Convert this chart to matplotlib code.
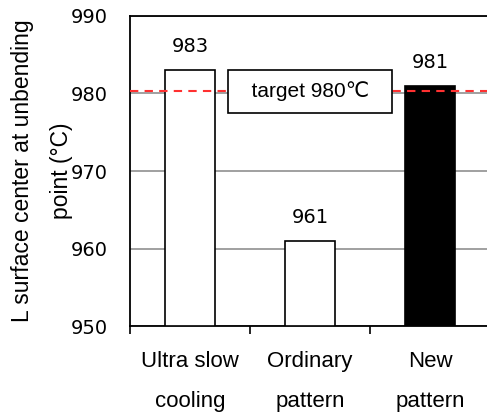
import matplotlib
matplotlib.use('Agg')
import matplotlib.pyplot as plt
import numpy as np

# data
categories = ['Ultra slow\ncooling', 'Ordinary\npattern', 'New\npattern']
temps = [983, 961, 981]
bar_colors = ['white', 'white', 'black']
target = 980.3
yticks = [950, 960, 970, 980, 990]

plt.rcParams['font.family'] = ['Liberation Sans', 'DejaVu Sans']

fig = plt.figure(figsize=(4.87, 4.12), dpi=100)
ax = fig.add_axes([0.267, 0.2087, 0.739, 0.7525])

x = np.arange(len(categories))
ax.bar(x, np.array(temps) - 950, bottom=950, width=0.41, color=bar_colors,
       edgecolor='black', linewidth=1.2, zorder=3)

## value labels above bars
for xi, t in zip(x, temps):
    ax.text(xi, t + 1.8, str(t), ha='center', va='bottom', fontsize=14,
            family='DejaVu Sans')

## target line and label box
ax.axhline(target, color='#ff3030', linestyle=(0, (4, 3)), linewidth=1.5, zorder=4)
ax.text(1.0, target, '  target 980\u2103  ', ha='center', va='center', fontsize=15,
        family=['Liberation Sans', 'DejaVu Sans'], zorder=5,
        bbox=dict(boxstyle='square,pad=0.55', fc='white', ec='black', lw=1.2))

ax.set_xlim(-0.5, 2.5)
ax.set_ylim(950, 990)
ax.set_yticks(yticks)
ax.set_yticklabels([str(v) for v in yticks], family='DejaVu Sans', fontsize=14)
ax.set_xticks([-0.5, 0.5, 1.5, 2.5])
ax.set_xticklabels([])
ax.set_xticks(x, minor=True)
ax.set_xticklabels(categories, minor=True, fontsize=16, linespacing=2.2)
ax.tick_params(axis='x', which='minor', length=0, pad=18)
ax.tick_params(axis='x', which='major', length=6, width=1.2, direction='out')
ax.tick_params(axis='y', length=0, pad=16)

ax.yaxis.grid(True, color='#999999', linewidth=1.3, zorder=0)
ax.set_axisbelow(True)
for s in ['left', 'bottom', 'top']:
    ax.spines[s].set_linewidth(1.3)
ax.spines['right'].set_visible(False)

ax.set_ylabel('L surface center at unbending\npoint (\u00b0C)', fontsize=16.5,
              linespacing=1.9, labelpad=-2)

plt.savefig('out.png', dpi=100)
